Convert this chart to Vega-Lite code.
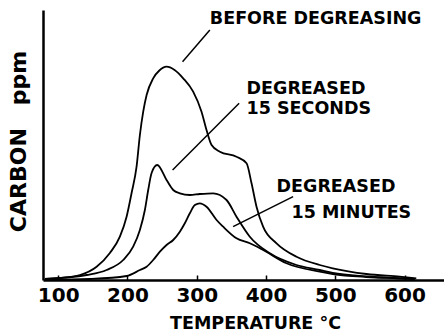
{
  "$schema": "https://vega.github.io/schema/vega-lite/v6.json",
  "width": 401,
  "height": 270,
  "autosize": "none",
  "padding": {"left": 43, "top": 10, "right": 0, "bottom": 52},
  "background": "white",
  "config": {
    "view": {"stroke": null},
    "font": "DejaVu Sans",
    "axis": {"grid": false, "domainColor": "black", "domainWidth": 2.5, "tickColor": "black", "labelColor": "black", "titleColor": "black"}
  },
  "encoding": {
    "x": {
      "field": "t", "type": "quantitative",
      "scale": {"domain": [78, 657], "nice": false, "zero": false},
      "axis": {
        "values": [100, 200, 300, 400, 500, 600],
        "title": "TEMPERATURE °C",
        "titleFont": "DejaVu Sans", "titleFontWeight": "bold", "titleFontSize": 17.5,
        "titleX": 212, "titleY": 48, "titleBaseline": "alphabetic",
        "labelFont": "DejaVu Sans", "labelFontWeight": "bold", "labelFontSize": 20,
        "labelPadding": 10, "tickSize": -5, "tickWidth": 1.5, "labelFlush": false
      }
    },
    "y": {
      "field": "v", "type": "quantitative",
      "scale": {"domain": [0, 270], "nice": false},
      "axis": {
        "ticks": false, "labels": false,
        "title": "CARBON\u00a0\u00a0\u00a0ppm",
        "titleFont": "DejaVu Sans", "titleFontWeight": "bold", "titleFontSize": 22,
        "titleX": -25, "titleY": 131, "titleBaseline": "middle", "titleAngle": -90
      }
    }
  },
  "layer": [
    {
      "data": {"values": [
        {"series": "before", "t": 80.8, "v": 1},
        {"series": "before", "t": 102.5, "v": 2},
        {"series": "before", "t": 131.3, "v": 5},
        {"series": "before", "t": 155.4, "v": 13.3},
        {"series": "before", "t": 174.6, "v": 27},
        {"series": "before", "t": 189, "v": 43.3},
        {"series": "before", "t": 198.7, "v": 63.3},
        {"series": "before", "t": 205.9, "v": 87},
        {"series": "before", "t": 213.1, "v": 113.3},
        {"series": "before", "t": 217.9, "v": 145},
        {"series": "before", "t": 222.7, "v": 168.3},
        {"series": "before", "t": 227.6, "v": 185},
        {"series": "before", "t": 237.1, "v": 201.7},
        {"series": "before", "t": 246, "v": 209.5},
        {"series": "before", "t": 256.4, "v": 213.3},
        {"series": "before", "t": 268, "v": 210},
        {"series": "before", "t": 280.4, "v": 201.7},
        {"series": "before", "t": 294.8, "v": 188.3},
        {"series": "before", "t": 306.9, "v": 168.3},
        {"series": "before", "t": 314.1, "v": 150},
        {"series": "before", "t": 321.4, "v": 135},
        {"series": "before", "t": 333.4, "v": 128.3},
        {"series": "before", "t": 357.4, "v": 123.3},
        {"series": "before", "t": 371.9, "v": 116.7},
        {"series": "before", "t": 379.1, "v": 96.7},
        {"series": "before", "t": 386.3, "v": 73.3},
        {"series": "before", "t": 395.8, "v": 53.3},
        {"series": "before", "t": 415.2, "v": 36.7},
        {"series": "before", "t": 444, "v": 23.3},
        {"series": "before", "t": 477.6, "v": 15},
        {"series": "before", "t": 496.4, "v": 11.7},
        {"series": "before", "t": 545, "v": 6},
        {"series": "before", "t": 593, "v": 3.3},
        {"series": "before", "t": 617, "v": 1.7},

        {"series": "sec", "t": 80.8, "v": 1},
        {"series": "sec", "t": 141, "v": 5},
        {"series": "sec", "t": 169.8, "v": 10},
        {"series": "sec", "t": 193.8, "v": 20},
        {"series": "sec", "t": 208.2, "v": 33.3},
        {"series": "sec", "t": 217.9, "v": 50},
        {"series": "sec", "t": 225.1, "v": 70},
        {"series": "sec", "t": 229.9, "v": 90},
        {"series": "sec", "t": 234.8, "v": 107},
        {"series": "sec", "t": 242.9, "v": 115},
        {"series": "sec", "t": 256.4, "v": 100},
        {"series": "sec", "t": 266, "v": 90},
        {"series": "sec", "t": 275.6, "v": 86.7},
        {"series": "sec", "t": 290, "v": 85},
        {"series": "sec", "t": 304.4, "v": 86},
        {"series": "sec", "t": 323.7, "v": 86.7},
        {"series": "sec", "t": 343, "v": 80},
        {"series": "sec", "t": 357.4, "v": 63.3},
        {"series": "sec", "t": 376.6, "v": 43.3},
        {"series": "sec", "t": 405.5, "v": 26.7},
        {"series": "sec", "t": 444, "v": 15},
        {"series": "sec", "t": 477.6, "v": 10},
        {"series": "sec", "t": 496.4, "v": 7},
        {"series": "sec", "t": 545, "v": 3.5},
        {"series": "sec", "t": 600, "v": 1.5},
        {"series": "sec", "t": 614.7, "v": 1},

        {"series": "min", "t": 80.8, "v": 0},
        {"series": "min", "t": 145.7, "v": 1},
        {"series": "min", "t": 198.7, "v": 4},
        {"series": "min", "t": 217.9, "v": 10},
        {"series": "min", "t": 227.6, "v": 13.3},
        {"series": "min", "t": 237.1, "v": 20},
        {"series": "min", "t": 246.8, "v": 28.3},
        {"series": "min", "t": 256.4, "v": 35},
        {"series": "min", "t": 266, "v": 40},
        {"series": "min", "t": 275.6, "v": 48.3},
        {"series": "min", "t": 282.8, "v": 56.7},
        {"series": "min", "t": 290, "v": 66.7},
        {"series": "min", "t": 297.3, "v": 75},
        {"series": "min", "t": 304.4, "v": 76.7},
        {"series": "min", "t": 314.1, "v": 73.3},
        {"series": "min", "t": 328.6, "v": 60},
        {"series": "min", "t": 338.1, "v": 53.3},
        {"series": "min", "t": 357.4, "v": 41.7},
        {"series": "min", "t": 376.6, "v": 36.7},
        {"series": "min", "t": 395.8, "v": 30},
        {"series": "min", "t": 429.6, "v": 16.7},
        {"series": "min", "t": 477.6, "v": 8.3},
        {"series": "min", "t": 496.4, "v": 6},
        {"series": "min", "t": 545, "v": 3},
        {"series": "min", "t": 600, "v": 1.5},
        {"series": "min", "t": 614.7, "v": 1}
      ]},
      "mark": {"type": "line", "color": "black", "strokeWidth": 1.8, "interpolate": "monotone"},
      "encoding": {"detail": {"field": "series"}}
    },
    {
      "data": {"values": [
        {"t": 318.9, "v": 250, "t2": 279.5, "v2": 218.3},
        {"t": 361.2, "v": 176.7, "t2": 265.1, "v2": 110},
        {"t": 439.1, "v": 83.3, "t2": 352.5, "v2": 53.3}
      ]},
      "mark": {"type": "rule", "color": "black", "strokeWidth": 1.5},
      "encoding": {"x2": {"field": "t2"}, "y2": {"field": "v2"}}
    },
    {
      "data": {"values": [
        {"label": "BEFORE DEGREASING", "t": 318.9, "v": 261},
        {"label": "DEGREASED", "t": 371.9, "v": 191.5},
        {"label": "15 SECONDS", "t": 371.9, "v": 171.5},
        {"label": "DEGREASED", "t": 415.2, "v": 93.3},
        {"label": "15 MINUTES", "t": 436.8, "v": 66.7}
      ]},
      "mark": {"type": "text", "font": "DejaVu Sans", "fontWeight": "bold", "fontSize": 17.5, "align": "left", "baseline": "middle", "color": "black"},
      "encoding": {"text": {"field": "label"}}
    }
  ]
}
